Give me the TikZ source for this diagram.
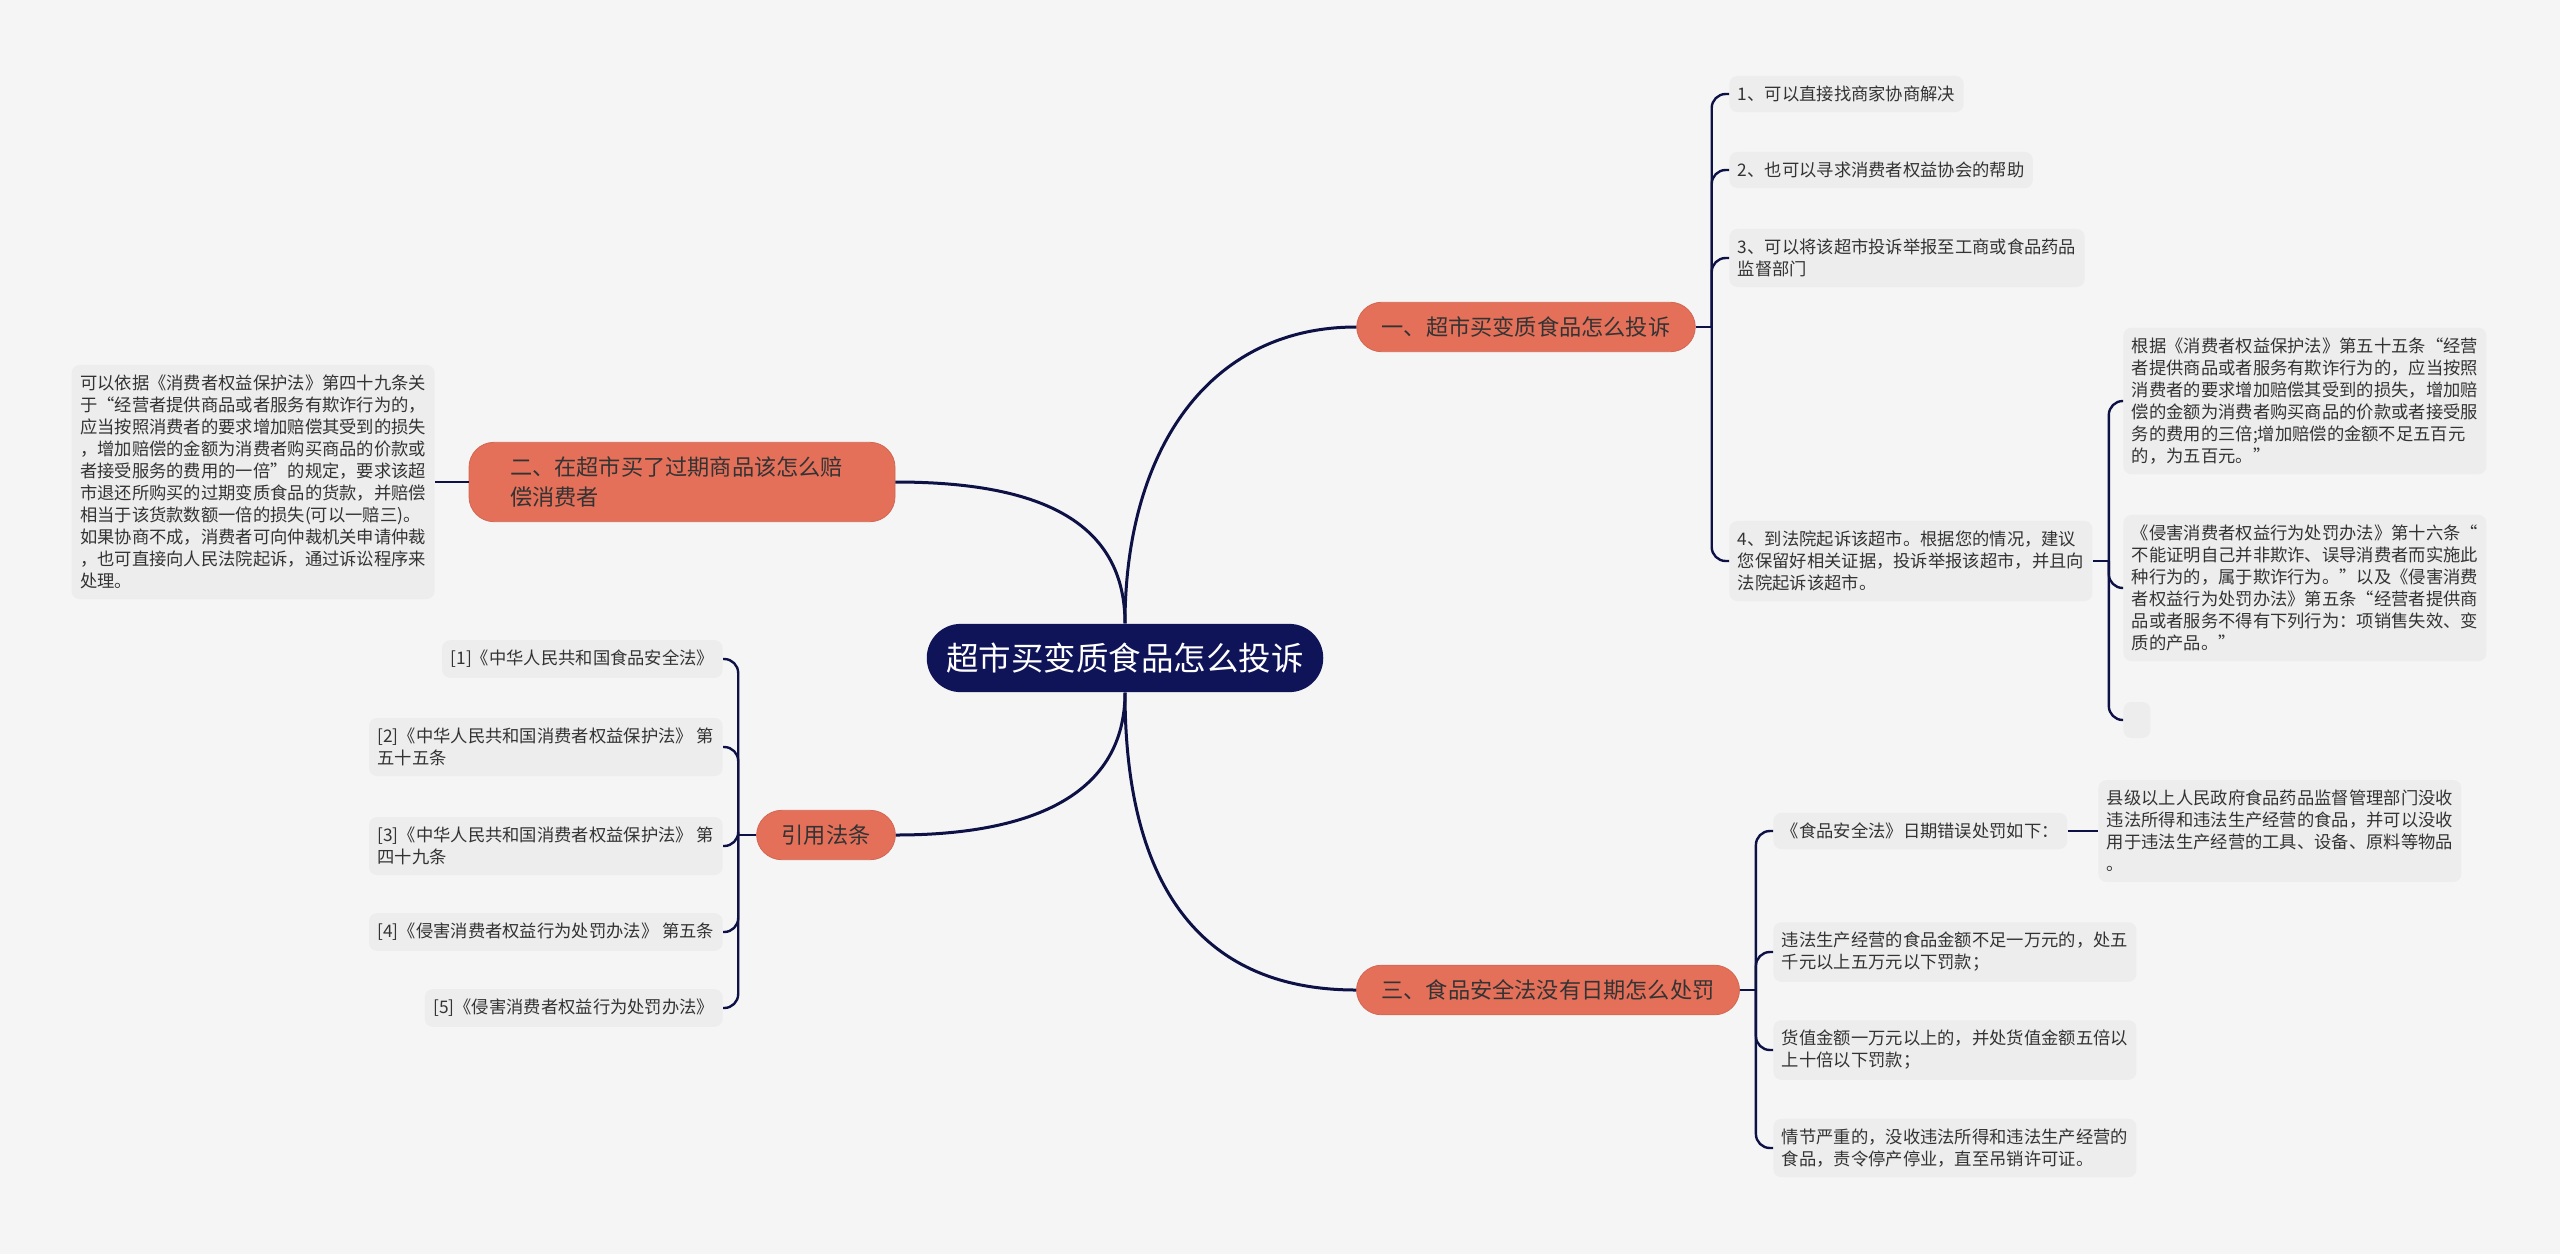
\documentclass[tikz,border=0pt]{standalone}
\usepackage{fontspec}
\setmainfont{Noto Sans CJK SC}
\usepackage{xcolor}
\usepackage{tikz}
\definecolor{navy}{HTML}{0F1459}
\definecolor{wire}{HTML}{0D1145}
\definecolor{salmon}{HTML}{E4705A}
\definecolor{ink}{HTML}{333333}
\definecolor{paper}{HTML}{F5F5F5}
\definecolor{card}{HTML}{EDEDED}
\newcommand\leafsize{\fontsize{8.65pt}{11pt}\selectfont}
\newcommand\topicsize{\fontsize{11.1pt}{15pt}\selectfont}
\newcommand\rootsize{\fontsize{16.25pt}{20pt}\selectfont}
\tikzset{
  every node/.style={font=\leafsize},
  root/.style={rounded corners=17pt,fill=navy,text=white,font=\rootsize,inner xsep=9.75pt,inner ysep=9.5pt},
  topic/.style={rounded corners=12.5pt,fill=salmon,draw=salmon!92!black,text=ink,font=\topicsize,inner xsep=12.5pt,inner ysep=7.2pt,align=left},
  leaf/.style={rounded corners=4pt,fill=card,text=ink,inner xsep=4.25pt,inner ysep=5pt,align=left},
}
\begin{document}
\begin{tikzpicture}[x=0.5pt,y=-0.5pt,
  main/.style={wire,line width=1.5pt},
  bk/.style={wire,line width=1.2pt,rounded corners=7pt}]
  \fill[paper] (0,0) rectangle (2560,1254);
  \useasboundingbox (0,0) rectangle (2560,1254);
  \node[root] (root) at (1125,658) {超市买变质食品怎么投诉};
  \node[topic] (b1) at (1526,327) {一、超市买变质食品怎么投诉};
  \node[topic,text width=172pt,inner xsep=20.5pt] (b2) at (682,482) {二、在超市买了过期商品该怎么赔\\偿消费者};
  \node[topic] (law) at (826,835) {引用法条};
  \node[topic] (b3) at (1548,990) {三、食品安全法没有日期怎么处罚};
  \draw[main] (root.north) .. controls +(0,-170) and +(-150,0) .. (b1.west);
  \draw[main] (root.north) .. controls +(0,-110) and +(130,0) .. (b2.east);
  \draw[main] (root.south) .. controls +(0,100) and +(140,0) .. (law.east);
  \draw[main] (root.south) .. controls +(0,200) and +(-150,0) .. (b3.west);
  \node[leaf,anchor=west] (a1) at (1729,94) {1、可以直接找商家协商解决};
  \node[leaf,anchor=west] (a2) at (1729,170) {2、也可以寻求消费者权益协会的帮助};
  \node[leaf,anchor=west] (a3) at (1729,258) {3、可以将该超市投诉举报至工商或食品药品\\监督部门};
  \node[leaf,anchor=west] (a4) at (1729,561) {4、到法院起诉该超市。根据您的情况，建议\\您保留好相关证据，投诉举报该超市，并且向\\法院起诉该超市。};
  \draw[bk] (b1.east) -- ++(16,0) coordinate (j1);
  \foreach \n in {a1,a2,a3,a4} \draw[bk] (j1) |- (\n.west);
  \node[leaf,anchor=west] (c1) at (2123,401) {根据《消费者权益保护法》第五十五条“经营\\者提供商品或者服务有欺诈行为的，应当按照\\消费者的要求增加赔偿其受到的损失，增加赔\\偿的金额为消费者购买商品的价款或者接受服\\务的费用的三倍;增加赔偿的金额不足五百元\\的，为五百元。”};
  \node[leaf,anchor=west] (c2) at (2123,588) {《侵害消费者权益行为处罚办法》第十六条“\\不能证明自己并非欺诈、误导消费者而实施此\\种行为的，属于欺诈行为。”以及《侵害消费\\者权益行为处罚办法》第五条“经营者提供商\\品或者服务不得有下列行为：项销售失效、变\\质的产品。”};
  \node[leaf,anchor=west,inner sep=0pt,minimum width=13.5pt,minimum height=18pt] (c3) at (2123,720) {};
  \draw[bk] (a4.east) -- ++(16,0) coordinate (j4);
  \foreach \n in {c1,c2,c3} \draw[bk] (j4) |- (\n.west);
  \node[leaf,anchor=east] (d1) at (435,482) {可以依据《消费者权益保护法》第四十九条关\\于“经营者提供商品或者服务有欺诈行为的，\\应当按照消费者的要求增加赔偿其受到的损失\\，增加赔偿的金额为消费者购买商品的价款或\\者接受服务的费用的一倍”的规定，要求该超\\市退还所购买的过期变质食品的货款，并赔偿\\相当于该货款数额一倍的损失(可以一赔三)。\\如果协商不成，消费者可向仲裁机关申请仲裁\\，也可直接向人民法院起诉，通过诉讼程序来\\处理。};
  \draw[bk] (b2.west) -- (d1.east);
  \node[leaf,anchor=east] (r1) at (723,659) {[1]《中华人民共和国食品安全法》};
  \node[leaf,anchor=east] (r2) at (723,747) {[2]《中华人民共和国消费者权益保护法》 第\\五十五条};
  \node[leaf,anchor=east] (r3) at (723,846) {[3]《中华人民共和国消费者权益保护法》 第\\四十九条};
  \node[leaf,anchor=east] (r4) at (723,932) {[4]《侵害消费者权益行为处罚办法》 第五条};
  \node[leaf,anchor=east] (r5) at (723,1008) {[5]《侵害消费者权益行为处罚办法》};
  \draw[bk] (law.west) -- ++(-18,0) coordinate (j5);
  \foreach \n in {r1,r2,r3,r4,r5} \draw[bk] (j5) |- (\n.east);
  \node[leaf,anchor=west] (e1) at (1773,831) {《食品安全法》日期错误处罚如下：};
  \node[leaf,anchor=west] (e2) at (1773,952) {违法生产经营的食品金额不足一万元的，处五\\千元以上五万元以下罚款；};
  \node[leaf,anchor=west] (e3) at (1773,1050) {货值金额一万元以上的，并处货值金额五倍以\\上十倍以下罚款；};
  \node[leaf,anchor=west] (e4) at (1773,1148) {情节严重的，没收违法所得和违法生产经营的\\食品，责令停产停业，直至吊销许可证。};
  \draw[bk] (b3.east) -- ++(16,0) coordinate (j3);
  \foreach \n in {e1,e2,e3,e4} \draw[bk] (j3) |- (\n.west);
  \node[leaf,anchor=west] (f1) at (2098,831) {县级以上人民政府食品药品监督管理部门没收\\违法所得和违法生产经营的食品，并可以没收\\用于违法生产经营的工具、设备、原料等物品\\。};
  \draw[bk] (e1.east) -- (f1.west);
\end{tikzpicture}
\end{document}
